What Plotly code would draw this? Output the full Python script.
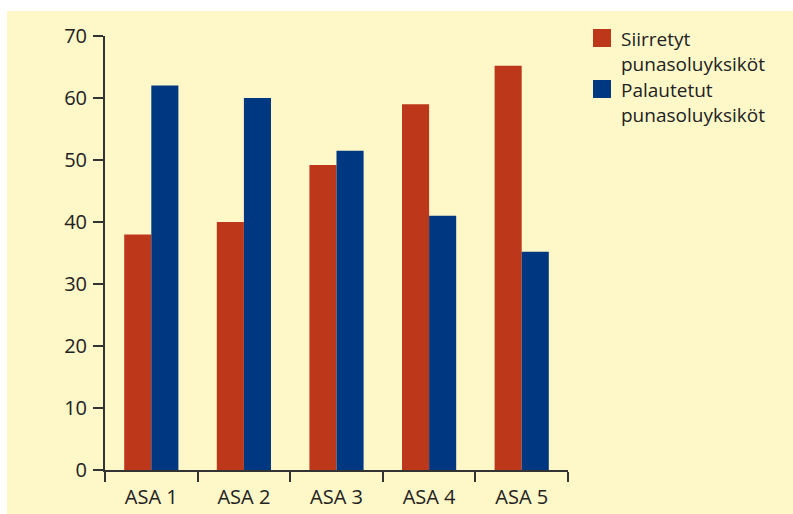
import plotly.graph_objects as go

categories = ["ASA 1", "ASA 2", "ASA 3", "ASA 4", "ASA 5"]
series_names = ["Siirretyt<br>punasoluyksiköt", "Palautetut<br>punasoluyksiköt"]
siirretyt = [38, 40, 49.2, 59, 65.2]
palautetut = [62, 60, 51.5, 41, 35.2]
colors = ["#BD381B", "#003781"]
y_ticks = [0, 10, 20, 30, 40, 50, 60, 70]

W, H = 793, 514
L, R, T, B = 105, 225, 36, 44
pw, ph = W - L - R, H - T - B

def px_x(x):
    return (x - L) / pw

def px_y(y):
    return (H - B - y) / ph

FONT = "Open Sans"
TXT = "#222222"
AX = "#333333"

fig = go.Figure()
for name, vals, c in zip(series_names, [siirretyt, palautetut], colors):
    fig.add_trace(go.Bar(x=categories, y=vals, name=name, marker_color=c,
                         marker_line_width=0, showlegend=False))

shapes = [dict(type="rect", xref="paper", yref="paper", layer="below",
               x0=px_x(7), x1=px_x(W + 5), y0=px_y(H + 5), y1=px_y(11),
               fillcolor="#FEF7C8", line_width=0)]
annotations = []
for i, (name, c) in enumerate(zip(series_names, colors)):
    top = 29 + i * 51
    shapes.append(dict(type="rect", xref="paper", yref="paper",
                       x0=px_x(593), x1=px_x(611), y0=px_y(top + 18), y1=px_y(top),
                       fillcolor=c, line_width=0))
    annotations.append(dict(xref="paper", yref="paper", x=px_x(619),
                            y=px_y(top + 22.5),
                            xanchor="left", yanchor="middle", text=name, showarrow=False,
                            align="left", font=dict(family=FONT, size=19, color=TXT)))

fig.update_layout(
    width=W, height=H,
    margin=dict(l=L, r=R, t=T, b=B, pad=0),
    paper_bgcolor="white",
    plot_bgcolor="rgba(0,0,0,0)",
    barmode="group", bargap=0.415, bargroupgap=0,
    font=dict(family=FONT, size=19, color=TXT),
    shapes=shapes, annotations=annotations,
    xaxis=dict(showline=True, linecolor=AX, linewidth=2, ticks="outside",
               tickson="boundaries", ticklen=10, tickwidth=1.5, tickcolor=AX,
               ticklabelstandoff=8, automargin=False,
               showgrid=False, zeroline=False, tickfont=dict(size=20, color=TXT)),
    yaxis=dict(range=[0, 70], tickvals=y_ticks, showline=True, linecolor=AX,
               linewidth=2, ticks="outside", ticklen=10, tickwidth=1.5, tickcolor=AX,
               ticklabelstandoff=2, automargin=False,
               showgrid=False, zeroline=False, tickfont=dict(size=20, color=TXT)),
)
fig.write_html("out.html")
